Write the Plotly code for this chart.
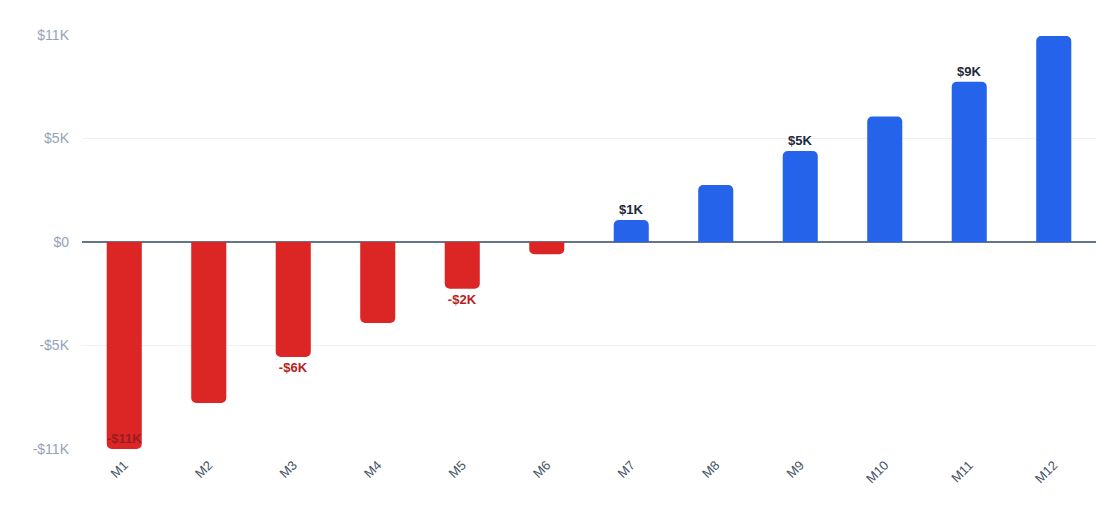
import plotly.graph_objects as go

months = ['M1', 'M2', 'M3', 'M4', 'M5', 'M6', 'M7', 'M8', 'M9', 'M10', 'M11', 'M12']
values = [-11000, -8550, -6110, -4300, -2480, -650, 1170, 3030, 4840, 6670, 8520, 10950]

tick_vals = [-11000, -5500, 0, 5500, 11000]
tick_text = ['-$11K', '-$5K', '$0', '$5K', '$11K']


def money_k(v):
    k = round(abs(v) / 1000)
    return ('-' if v < 0 else '') + '$' + str(k) + 'K'


# only every other bar gets a label; the first one has no room outside
labels = [money_k(v) if i % 2 == 0 and i > 0 else '' for i, v in enumerate(values)]
bar_colors = ['#dc2626' if v < 0 else '#2563eb' for v in values]
label_colors = ['#b91c1c' if v < 0 else '#1e293b' for v in values]

fig = go.Figure()
fig.add_trace(go.Bar(
    x=months,
    y=values,
    text=labels,
    textposition='outside',
    textangle=0,
    cliponaxis=False,
    textfont=dict(family='Liberation Sans, Arial, sans-serif', size=13,
                  color=label_colors, weight='bold'),
    marker=dict(color=bar_colors, cornerradius=5, line=dict(width=0)),
    hovertemplate='%{x}: %{y:$,.0f}<extra></extra>',
))

# label of M1 sits inside the bottom of its bar
fig.add_annotation(
    x=months[0], y=values[0], text=money_k(values[0]),
    showarrow=False, yanchor='bottom', yshift=1,
    font=dict(family='Liberation Sans, Arial, sans-serif', size=13,
              color='#9b1c1c', weight='bold'),
)

fig.update_layout(
    width=1104,
    height=515,
    margin=dict(l=74, r=16, t=27, b=74),
    plot_bgcolor='white',
    paper_bgcolor='white',
    bargap=0.585,
    showlegend=False,
    font=dict(family='Liberation Sans, Arial, sans-serif'),
)
fig.update_xaxes(
    tickangle=-45,
    tickfont=dict(size=13, color='#475569'),
    showgrid=False,
    showline=False,
    ticks='',
    ticklabelstandoff=5,
)
fig.update_yaxes(
    range=[-11000, 11000],
    tickvals=tick_vals,
    ticktext=tick_text,
    tickfont=dict(size=14, color='#94a3b8'),
    showgrid=True,
    gridcolor='#eef2f7',
    gridwidth=1,
    zeroline=True,
    zerolinecolor='#64748b',
    zerolinewidth=2,
    ticks='',
    ticklabelstandoff=12,
)

fig.write_html('out.html')
